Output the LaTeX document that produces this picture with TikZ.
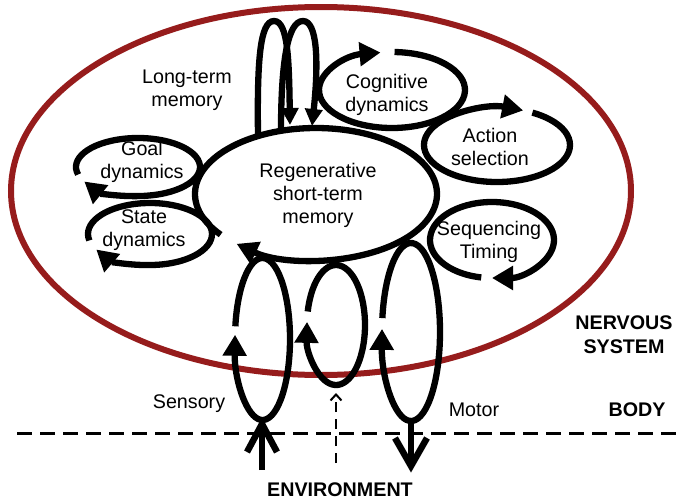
\documentclass[tikz,border=0pt]{standalone}
\usepackage{fontspec}
\setmainfont{Liberation Sans}
\usetikzlibrary{arrows.meta}
\definecolor{nsred}{RGB}{150,28,28}
\begin{document}
\begin{tikzpicture}[x=1pt,y=-1pt,
  loopline/.style={line width=6.3pt, draw=black},
  tri/.style={-{Triangle[length=21pt,width=23pt]}},
  smalltri/.style={-{Triangle[length=17pt,width=17pt]}},
  lbl/.style={font=\fontsize{19.7}{23}\selectfont, align=center, inner sep=0pt},
  blbl/.style={font=\fontsize{19.7}{24}\selectfont\bfseries, align=center, inner sep=0pt},
  shaft/.style={line width=6.5pt},
  vhead/.style={line width=6.5pt, line join=miter, miter limit=10},
  ]
\useasboundingbox (0,0) rectangle (681,501);
% nervous system
\coordinate (cR) at (321,191);
\draw[nsred, line width=6pt] (cR) ellipse [x radius=310, y radius=184];
% centres
\coordinate (cM) at (316,194);
\coordinate (cC) at (392,90);
\coordinate (cA) at (497,145);
\coordinate (cQ) at (492,240);
\coordinate (cG) at (138,167);
\coordinate (cS) at (150,234);
\coordinate (cSe) at (262.5,339);
\coordinate (cMi) at (336,325);
\coordinate (cMo) at (411,332);
% loops
\draw[loopline, tri] (cM) ++(142:121 and 66) arc[start angle=142, end angle=491, x radius=121, y radius=66];
\draw[loopline, tri] (cC) ++(-88:73 and 38) arc[start angle=-88, end angle=261, x radius=73, y radius=38];
\draw[loopline, tri] (cA) ++(-61:73 and 37) arc[start angle=-61, end angle=291, x radius=73, y radius=37];
\draw[loopline, tri] (cQ) ++(100:62 and 38) arc[start angle=100, end angle=450, x radius=62, y radius=38];
\draw[loopline, tri] (cG) ++(165:62 and 29) arc[start angle=165, end angle=510, x radius=62, y radius=29];
\draw[loopline, tri] (cS) ++(168:62 and 31) arc[start angle=168, end angle=510, x radius=62, y radius=31];
\draw[loopline, tri] (cSe) ++(189:27.5 and 81) arc[start angle=189, end angle=543, x radius=27.5, y radius=81];
\draw[loopline, tri] (cMi) ++(193:29 and 60) arc[start angle=193, end angle=543, x radius=29, y radius=60];
\draw[loopline, tri] (cMo) ++(189:29 and 89) arc[start angle=189, end angle=542, x radius=29, y radius=89];
% long-term memory arches
\coordinate (a1s) at (258,136);
\coordinate (a1t) at (274,21);
\coordinate (a1e) at (290,125);
\coordinate (a2s) at (281,131);
\coordinate (a2t) at (303,21);
\coordinate (a2e) at (312,126);
\draw[loopline, smalltri] (a1s) .. controls (257,60) and (260,21) .. (a1t) .. controls (288,21) and (289,60) .. (a1e);
\draw[loopline, smalltri] (a2s) .. controls (281,60) and (288,21) .. (a2t) .. controls (317,21) and (319,60) .. (a2e);
% body / environment
\coordinate (bl) at (17,433);
\coordinate (br) at (681,433);
\draw[line width=3pt, dash pattern=on 15pt off 8pt] (bl) -- (br);
% sensory input arrow
\coordinate (senIn) at (262,470);
\coordinate (senTip) at (262,424);
\coordinate (senL) at (247,452);
\coordinate (senR) at (277,452);
\draw[shaft] (senIn) -- (senTip);
\draw[vhead] (senL) -- (senTip) -- (senR);
% motor output arrow
\coordinate (motOut) at (411,421);
\coordinate (motTip) at (411,466);
\coordinate (motL) at (395,438);
\coordinate (motR) at (427,438);
\draw[shaft] (motOut) -- (motTip);
\draw[vhead] (motL) -- (motTip) -- (motR);
% dashed arrow
\coordinate (dIn) at (336,463);
\coordinate (dTip) at (336,393);
\draw[line width=2pt, dash pattern=on 10pt off 7pt, -{Straight Barb[length=6pt,width=11pt]}] (dIn) -- (dTip);
% labels
\node[lbl] (ltm) at (187,90) {Long-term\\memory};
\node[lbl] (goal) at (142,162) {Goal\\dynamics};
\node[lbl] (state) at (144,230) {State\\dynamics};
\node[lbl] (rstm) at (318,195) {Regenerative\\short-term\\memory};
\node[lbl] (cog) at (387,95) {Cognitive\\dynamics};
\node[lbl] (act) at (490,147) {Action\\selection};
\node[lbl] (seq) at (489,242) {Sequencing\\Timing};
\node[lbl] (sens) at (189,404) {Sensory};
\node[lbl] (motor) at (474,410) {Motor};
\node[blbl] (nerv) at (624,335) {NERVOUS\\SYSTEM};
\node[blbl] (body) at (637,410) {BODY};
\node[blbl] (env) at (340,490) {ENVIRONMENT};
\end{tikzpicture}
\end{document}
